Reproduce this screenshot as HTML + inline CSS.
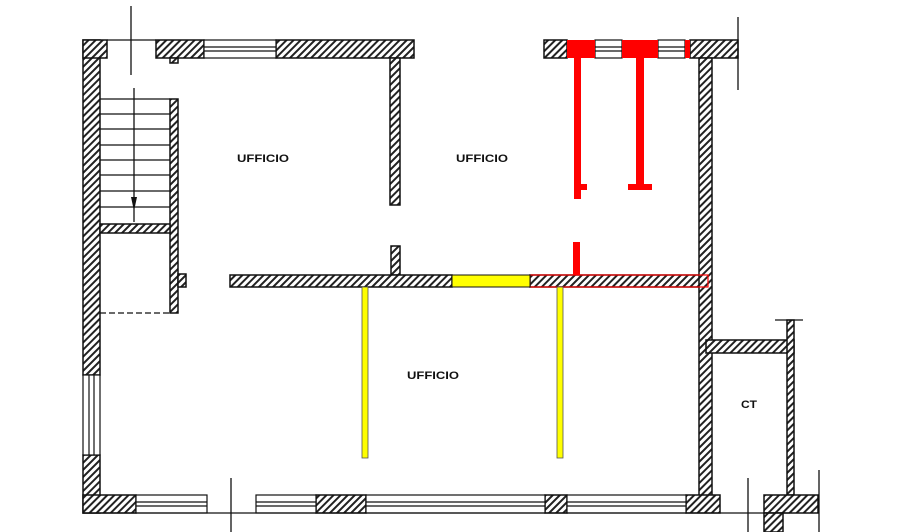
<!DOCTYPE html>
<html><head><meta charset="utf-8"><style>html,body{margin:0;padding:0;background:#fff}svg{display:block}text{font-family:"Liberation Sans",sans-serif;font-weight:bold;font-size:11px;fill:#111}</style></head>
<body>
<svg width="900" height="532" viewBox="0 0 900 532" xmlns="http://www.w3.org/2000/svg">
<defs>
<pattern id="h" width="5" height="5" patternUnits="userSpaceOnUse" patternTransform="rotate(45)"><rect width="5" height="5" fill="#fff"/><rect width="2" height="5" fill="#222"/></pattern>
</defs>
<g stroke="#111" stroke-width="1.5" fill="url(#h)">
<rect x="83" y="40" width="17" height="335"/>
<rect x="83" y="455" width="17" height="58"/>
<rect x="83" y="40" width="24" height="18"/>
<rect x="156" y="40" width="48" height="18"/>
<rect x="170" y="58" width="8" height="5"/>
<rect x="276" y="40" width="138" height="18"/>
<rect x="390" y="58" width="10" height="147"/>
<rect x="391" y="246" width="9" height="29"/>
<rect x="170" y="99" width="8" height="214"/>
<rect x="100" y="224" width="70" height="9"/>
<rect x="178" y="274" width="8" height="13"/>
<rect x="230" y="275" width="222" height="12"/>
<rect x="530" y="275" width="178" height="12"/>
<rect x="544" y="40" width="23" height="18"/>
<rect x="690" y="40" width="48" height="18"/>
<rect x="699" y="58" width="13" height="440"/>
<rect x="706" y="340" width="88" height="13"/>
<rect x="787" y="320" width="7" height="175"/>
<rect x="764" y="495" width="54" height="18"/>
<rect x="764" y="513" width="19" height="19"/>
<rect x="83" y="495" width="53" height="18"/>
<rect x="316" y="495" width="50" height="18"/>
<rect x="545" y="495" width="22" height="18"/>
<rect x="686" y="495" width="34" height="18"/>
</g>
<g stroke="#111" stroke-width="1.2" fill="#fff">
<rect x="204" y="40" width="72" height="18"/><line x1="204" y1="47" x2="276" y2="47"/><line x1="204" y1="51" x2="276" y2="51"/>
<rect x="83" y="375" width="17" height="80"/><line x1="89" y1="375" x2="89" y2="455"/><line x1="94" y1="375" x2="94" y2="455"/>
<rect x="136" y="495" width="71" height="18"/><line x1="136" y1="502" x2="207" y2="502"/><line x1="136" y1="506" x2="207" y2="506"/>
<rect x="256" y="495" width="60" height="18"/><line x1="256" y1="502" x2="316" y2="502"/><line x1="256" y1="506" x2="316" y2="506"/>
<rect x="366" y="495" width="179" height="18"/><line x1="366" y1="502" x2="545" y2="502"/><line x1="366" y1="506" x2="545" y2="506"/>
<rect x="567" y="495" width="119" height="18"/><line x1="567" y1="502" x2="686" y2="502"/><line x1="567" y1="506" x2="686" y2="506"/>
<rect x="595" y="40" width="27" height="18"/><line x1="595" y1="47" x2="622" y2="47"/><line x1="595" y1="51" x2="622" y2="51"/>
<rect x="658" y="40" width="27" height="18"/><line x1="658" y1="47" x2="685" y2="47"/><line x1="658" y1="51" x2="685" y2="51"/>
</g>
<g fill="#f00">
<rect x="567" y="40" width="28" height="18"/><rect x="622" y="40" width="36" height="18"/><rect x="685" y="40" width="5" height="18"/>
<rect x="574" y="58" width="7" height="141"/><rect x="581" y="184" width="6" height="6"/>
<rect x="636" y="58" width="8" height="128"/><rect x="628" y="184" width="24" height="6"/>
<rect x="573" y="242" width="7" height="33"/>
</g>
<rect x="530" y="275" width="178" height="12" fill="none" stroke="#f00" stroke-width="1.2"/>
<rect x="452" y="275" width="78" height="12" fill="#ff0" stroke="#111" stroke-width="1"/>
<rect x="362" y="287" width="6" height="171" fill="#ff0" stroke="#555" stroke-width="0.8"/>
<rect x="557" y="287" width="6" height="171" fill="#ff0" stroke="#555" stroke-width="0.8"/>
<g stroke="#111" stroke-width="1.3" fill="none">
<line x1="131" y1="6" x2="131" y2="75"/>
<line x1="107" y1="40" x2="156" y2="40"/>
<line x1="134" y1="88" x2="134" y2="222"/>
<line x1="738" y1="17" x2="738" y2="90"/>
<line x1="231" y1="478" x2="231" y2="532"/>
<line x1="748" y1="478" x2="748" y2="532"/>
<line x1="819" y1="470" x2="819" y2="532"/>
<line x1="83" y1="513" x2="790" y2="513"/>
<line x1="775" y1="320" x2="803" y2="320"/>
<line x1="100" y1="313" x2="170" y2="313" stroke-dasharray="6,3"/>
<line x1="100" y1="99" x2="170" y2="99"/>
<line x1="100" y1="114" x2="170" y2="114"/>
<line x1="100" y1="129" x2="170" y2="129"/>
<line x1="100" y1="145" x2="170" y2="145"/>
<line x1="100" y1="160" x2="170" y2="160"/>
<line x1="100" y1="175" x2="170" y2="175"/>
<line x1="100" y1="191" x2="170" y2="191"/>
<line x1="100" y1="207" x2="170" y2="207"/>
</g>
<polygon points="131,197 137,197 134,211" fill="#111"/>
<text x="237" y="162" textLength="52" lengthAdjust="spacingAndGlyphs">UFFICIO</text>
<text x="456" y="162" textLength="52" lengthAdjust="spacingAndGlyphs">UFFICIO</text>
<text x="407" y="379" textLength="52" lengthAdjust="spacingAndGlyphs">UFFICIO</text>
<text x="741" y="408" textLength="16" lengthAdjust="spacingAndGlyphs">CT</text>
</svg>
</body></html>
